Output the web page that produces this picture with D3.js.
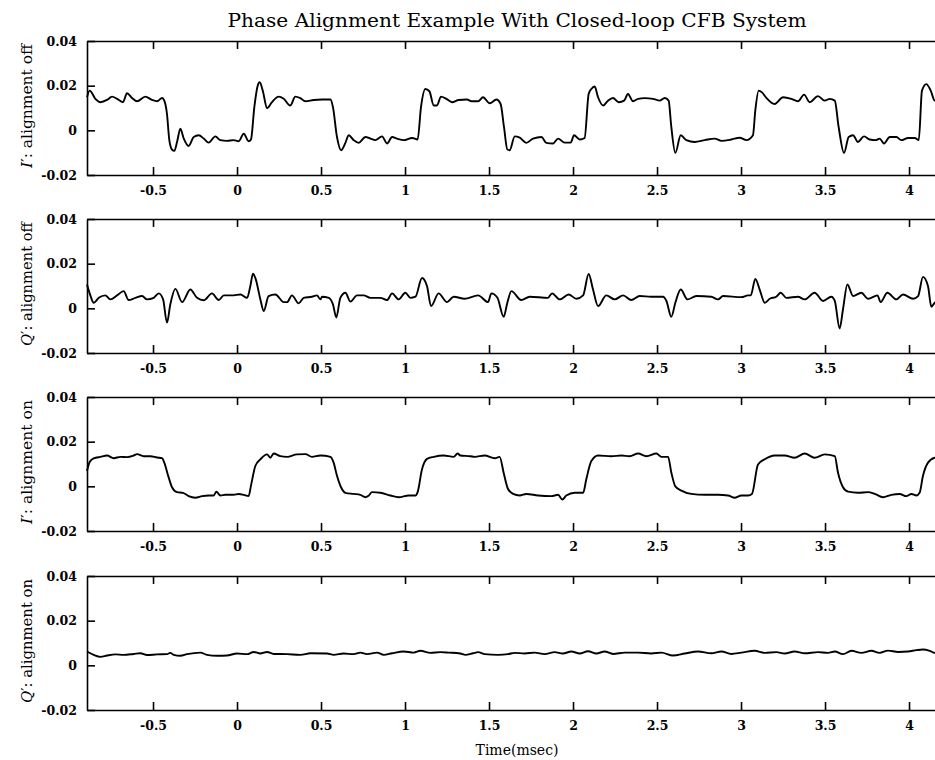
<!DOCTYPE html>
<html>
<head>
<meta charset="utf-8">
<script src="https://cdn.jsdelivr.net/npm/d3@7/dist/d3.min.js"></script>
<style>
  body { margin: 0; background: #fff; }
  svg { display: block; }
  .tick text { font-family: "DejaVu Serif", serif; font-weight: bold; font-size: 12.5px; fill: #000; }
  .tick line, .domain { stroke: #000; stroke-width: 1.6; }
</style>
</head>
<body>
<svg id="chart" width="935" height="760"></svg>
<script>
// tick values
const xTicks = [-0.5, 0, 0.5, 1, 1.5, 2, 2.5, 3, 3.5, 4];
const yTicks = [-0.02, 0, 0.02, 0.04];

// panel labels (symbol + state)
const panelSymbols = ['I', 'Q', 'I', 'Q'];
const panelStates = ['alignment off', 'alignment off', 'alignment on', 'alignment on'];

// series: [time (msec), value]
const iOff = [
  [-0.893, 0.0148], [-0.877, 0.0178], [-0.843, 0.0141], [-0.813, 0.0126], [-0.774, 0.0136],
  [-0.744, 0.0151], [-0.714, 0.0141], [-0.679, 0.0126], [-0.655, 0.0166], [-0.625, 0.0145],
  [-0.595, 0.0130], [-0.546, 0.0151], [-0.506, 0.0136], [-0.476, 0.0130], [-0.446, 0.0145],
  [-0.433, 0.0133], [-0.417, 0.0074], [-0.403, -0.0044], [-0.387, -0.0086], [-0.373, -0.0092],
  [-0.357, -0.0052], [-0.337, 0.0007], [-0.317, -0.0037], [-0.288, -0.0070], [-0.258, -0.0030],
  [-0.228, -0.0022], [-0.198, -0.0037], [-0.169, -0.0055], [-0.129, -0.0027], [-0.099, -0.0044],
  [-0.060, -0.0047], [-0.020, -0.0044], [0.010, -0.0049], [0.040, -0.0015], [0.069, -0.0049],
  [0.083, -0.0041], [0.103, 0.0104], [0.123, 0.0200], [0.135, 0.0215], [0.153, 0.0178],
  [0.179, 0.0099], [0.208, 0.0126], [0.248, 0.0151], [0.278, 0.0141], [0.317, 0.0111],
  [0.347, 0.0151], [0.377, 0.0144], [0.407, 0.0130], [0.456, 0.0136], [0.506, 0.0138],
  [0.556, 0.0138], [0.571, 0.0104], [0.595, -0.0030], [0.619, -0.0089], [0.645, -0.0056],
  [0.665, -0.0022], [0.694, -0.0044], [0.724, -0.0056], [0.764, -0.0030], [0.794, -0.0037],
  [0.823, -0.0044], [0.863, -0.0027], [0.893, -0.0059], [0.923, -0.0030], [0.952, -0.0037],
  [0.992, -0.0044], [1.042, -0.0034], [1.075, -0.0041], [1.095, 0.0104], [1.121, 0.0185],
  [1.145, 0.0175], [1.171, 0.0111], [1.190, 0.0111], [1.214, 0.0151], [1.246, 0.0141],
  [1.280, 0.0126], [1.319, 0.0136], [1.369, 0.0138], [1.395, 0.0130], [1.435, 0.0130],
  [1.464, 0.0148], [1.504, 0.0121], [1.544, 0.0138], [1.569, 0.0118], [1.589, 0.0015],
  [1.609, -0.0086], [1.623, -0.0089], [1.653, -0.0027], [1.683, -0.0033], [1.722, -0.0056],
  [1.762, -0.0037], [1.812, -0.0030], [1.841, -0.0056], [1.881, -0.0059], [1.911, -0.0037],
  [1.950, -0.0055], [1.986, -0.0055], [2.006, -0.0022], [2.040, -0.0041], [2.069, -0.0034],
  [2.093, 0.0163], [2.109, 0.0185], [2.129, 0.0196], [2.149, 0.0148], [2.179, 0.0111],
  [2.208, 0.0133], [2.238, 0.0145], [2.272, 0.0126], [2.304, 0.0133], [2.327, 0.0163],
  [2.357, 0.0130], [2.387, 0.0141], [2.427, 0.0144], [2.476, 0.0141], [2.516, 0.0133],
  [2.546, 0.0145], [2.569, 0.0133], [2.585, 0.0015], [2.609, -0.0101], [2.641, -0.0022],
  [2.675, -0.0044], [2.724, -0.0052], [2.784, -0.0044], [2.843, -0.0037], [2.883, -0.0047],
  [2.942, -0.0041], [2.992, -0.0033], [3.032, -0.0044], [3.071, -0.0022], [3.085, 0.0089],
  [3.105, 0.0178], [3.125, 0.0170], [3.151, 0.0145], [3.200, 0.0118], [3.250, 0.0148],
  [3.300, 0.0141], [3.339, 0.0130], [3.375, 0.0160], [3.409, 0.0126], [3.458, 0.0153],
  [3.498, 0.0133], [3.528, 0.0141], [3.558, 0.0133], [3.581, 0.0015], [3.613, -0.0101],
  [3.641, -0.0030], [3.667, -0.0022], [3.696, -0.0052], [3.732, -0.0027], [3.766, -0.0041],
  [3.802, -0.0044], [3.825, -0.0037], [3.851, -0.0059], [3.885, -0.0030], [3.925, -0.0030],
  [3.954, -0.0044], [3.994, -0.0034], [4.034, -0.0034], [4.058, -0.0044], [4.077, 0.0178],
  [4.103, 0.0207], [4.129, 0.0178], [4.153, 0.0133], [4.226, 0.0130]
];

const qOff = [
  [-0.893, 0.0107], [-0.873, 0.0058], [-0.853, 0.0025], [-0.823, 0.0047], [-0.784, 0.0058],
  [-0.754, 0.0040], [-0.714, 0.0058], [-0.675, 0.0077], [-0.645, 0.0037], [-0.605, 0.0047],
  [-0.565, 0.0055], [-0.536, 0.0040], [-0.496, 0.0047], [-0.466, 0.0067], [-0.440, 0.0040],
  [-0.417, -0.0064], [-0.397, 0.0018], [-0.367, 0.0087], [-0.327, 0.0028], [-0.278, 0.0084],
  [-0.238, 0.0047], [-0.198, 0.0036], [-0.149, 0.0067], [-0.109, 0.0037], [-0.079, 0.0058],
  [-0.020, 0.0058], [0.020, 0.0062], [0.060, 0.0047], [0.079, 0.0099], [0.095, 0.0155],
  [0.109, 0.0136], [0.139, 0.0040], [0.159, -0.0012], [0.188, 0.0055], [0.228, 0.0062],
  [0.278, 0.0028], [0.298, 0.0028], [0.327, 0.0058], [0.367, 0.0022], [0.397, 0.0047],
  [0.446, 0.0052], [0.476, 0.0058], [0.496, 0.0040], [0.506, 0.0052], [0.546, 0.0047],
  [0.571, 0.0018], [0.591, -0.0041], [0.615, 0.0047], [0.645, 0.0070], [0.675, 0.0030],
  [0.714, 0.0058], [0.754, 0.0058], [0.794, 0.0047], [0.853, 0.0047], [0.893, 0.0037],
  [0.923, 0.0067], [0.962, 0.0040], [1.002, 0.0070], [1.032, 0.0047], [1.062, 0.0052],
  [1.101, 0.0136], [1.131, 0.0099], [1.155, 0.0010], [1.200, 0.0067], [1.250, 0.0028],
  [1.290, 0.0052], [1.355, 0.0043], [1.435, 0.0058], [1.494, 0.0028], [1.514, 0.0067],
  [1.550, 0.0047], [1.587, -0.0038], [1.609, 0.0025], [1.633, 0.0077], [1.692, 0.0037],
  [1.742, 0.0052], [1.851, 0.0047], [1.875, 0.0067], [1.921, 0.0040], [1.974, 0.0062],
  [2.020, 0.0043], [2.060, 0.0058], [2.093, 0.0154], [2.119, 0.0084], [2.149, 0.0010],
  [2.198, 0.0058], [2.248, 0.0040], [2.298, 0.0058], [2.347, 0.0037], [2.397, 0.0055],
  [2.466, 0.0052], [2.536, 0.0052], [2.556, 0.0033], [2.585, -0.0038], [2.609, 0.0025],
  [2.641, 0.0084], [2.681, 0.0040], [2.734, 0.0055], [2.823, 0.0052], [2.863, 0.0040],
  [2.893, 0.0055], [3.002, 0.0050], [3.042, 0.0058], [3.058, 0.0058], [3.085, 0.0132],
  [3.111, 0.0084], [3.141, 0.0025], [3.171, 0.0043], [3.210, 0.0052], [3.236, 0.0070],
  [3.270, 0.0047], [3.339, 0.0052], [3.379, 0.0040], [3.438, 0.0070], [3.488, 0.0033],
  [3.538, 0.0052], [3.558, 0.0033], [3.587, -0.0090], [3.607, -0.0004], [3.633, 0.0107],
  [3.667, 0.0055], [3.716, 0.0070], [3.756, 0.0043], [3.812, 0.0058], [3.831, 0.0028],
  [3.871, 0.0070], [3.925, 0.0040], [3.964, 0.0062], [4.024, 0.0043], [4.054, 0.0055],
  [4.083, 0.0141], [4.113, 0.0099], [4.133, 0.0007], [4.153, 0.0025], [4.226, 0.0050]
];

const iOn = [
  [-0.893, 0.0069], [-0.877, 0.0109], [-0.853, 0.0125], [-0.813, 0.0132], [-0.774, 0.0138],
  [-0.734, 0.0126], [-0.694, 0.0132], [-0.655, 0.0131], [-0.615, 0.0138], [-0.595, 0.0144],
  [-0.556, 0.0135], [-0.516, 0.0135], [-0.476, 0.0129], [-0.446, 0.0126], [-0.433, 0.0106],
  [-0.407, 0.0040], [-0.387, -0.0004], [-0.357, -0.0026], [-0.321, -0.0029], [-0.288, -0.0044],
  [-0.248, -0.0051], [-0.208, -0.0044], [-0.169, -0.0041], [-0.139, -0.0041], [-0.123, -0.0024],
  [-0.099, -0.0041], [-0.069, -0.0038], [-0.020, -0.0038], [0.010, -0.0034], [0.040, -0.0038],
  [0.069, -0.0044], [0.083, 0.0003], [0.109, 0.0091], [0.139, 0.0121], [0.179, 0.0143],
  [0.198, 0.0128], [0.218, 0.0147], [0.258, 0.0135], [0.298, 0.0132], [0.357, 0.0143],
  [0.407, 0.0144], [0.446, 0.0132], [0.496, 0.0138], [0.556, 0.0132], [0.575, 0.0106],
  [0.595, 0.0047], [0.619, -0.0004], [0.645, -0.0029], [0.694, -0.0034], [0.734, -0.0038],
  [0.764, -0.0049], [0.784, -0.0041], [0.804, -0.0026], [0.853, -0.0029], [0.913, -0.0041],
  [0.962, -0.0049], [1.022, -0.0041], [1.062, -0.0041], [1.075, -0.0026], [1.101, 0.0076],
  [1.131, 0.0123], [1.171, 0.0132], [1.230, 0.0138], [1.290, 0.0132], [1.313, 0.0147],
  [1.329, 0.0138], [1.389, 0.0135], [1.415, 0.0132], [1.474, 0.0138], [1.534, 0.0126],
  [1.563, 0.0132], [1.589, 0.0054], [1.613, -0.0012], [1.643, -0.0034], [1.683, -0.0041],
  [1.722, -0.0034], [1.792, -0.0041], [1.871, -0.0044], [1.911, -0.0038], [1.937, -0.0059],
  [1.960, -0.0041], [2.010, -0.0029], [2.060, -0.0029], [2.079, 0.0032], [2.109, 0.0113],
  [2.149, 0.0138], [2.228, 0.0135], [2.288, 0.0138], [2.337, 0.0135], [2.387, 0.0147],
  [2.437, 0.0135], [2.496, 0.0147], [2.526, 0.0132], [2.566, 0.0132], [2.585, 0.0062],
  [2.609, 0.0000], [2.645, -0.0019], [2.704, -0.0034], [2.784, -0.0038], [2.863, -0.0038],
  [2.923, -0.0041], [2.962, -0.0051], [3.002, -0.0041], [3.042, -0.0041], [3.065, -0.0034],
  [3.101, 0.0098], [3.141, 0.0121], [3.200, 0.0138], [3.260, 0.0138], [3.319, 0.0128],
  [3.379, 0.0147], [3.438, 0.0128], [3.498, 0.0143], [3.558, 0.0135], [3.577, 0.0062],
  [3.607, -0.0004], [3.637, -0.0024], [3.696, -0.0029], [3.756, -0.0026], [3.796, -0.0034],
  [3.845, -0.0049], [3.895, -0.0038], [3.944, -0.0034], [3.984, -0.0044], [4.014, -0.0034],
  [4.044, -0.0041], [4.063, -0.0029], [4.083, 0.0047], [4.113, 0.0106], [4.153, 0.0128],
  [4.226, 0.0135]
];

const qOn = [
  [-0.893, 0.0062], [-0.853, 0.0047], [-0.813, 0.0038], [-0.774, 0.0044], [-0.724, 0.0049],
  [-0.675, 0.0047], [-0.615, 0.0051], [-0.575, 0.0054], [-0.536, 0.0046], [-0.476, 0.0049],
  [-0.417, 0.0050], [-0.397, 0.0056], [-0.377, 0.0047], [-0.337, 0.0043], [-0.298, 0.0050],
  [-0.218, 0.0057], [-0.179, 0.0047], [-0.119, 0.0043], [-0.060, 0.0044], [0.000, 0.0053],
  [0.060, 0.0050], [0.099, 0.0060], [0.139, 0.0053], [0.179, 0.0060], [0.218, 0.0051],
  [0.298, 0.0050], [0.377, 0.0047], [0.437, 0.0054], [0.536, 0.0053], [0.575, 0.0047],
  [0.635, 0.0053], [0.694, 0.0050], [0.734, 0.0057], [0.774, 0.0050], [0.833, 0.0057],
  [0.873, 0.0047], [0.923, 0.0054], [0.992, 0.0062], [1.052, 0.0057], [1.091, 0.0065],
  [1.151, 0.0056], [1.210, 0.0059], [1.260, 0.0057], [1.329, 0.0053], [1.359, 0.0047],
  [1.405, 0.0054], [1.435, 0.0059], [1.474, 0.0050], [1.554, 0.0047], [1.613, 0.0050],
  [1.653, 0.0056], [1.712, 0.0053], [1.772, 0.0057], [1.831, 0.0050], [1.891, 0.0059],
  [1.940, 0.0053], [1.990, 0.0062], [2.040, 0.0053], [2.089, 0.0063], [2.139, 0.0053],
  [2.188, 0.0062], [2.238, 0.0051], [2.308, 0.0057], [2.387, 0.0057], [2.466, 0.0053],
  [2.526, 0.0057], [2.595, 0.0044], [2.665, 0.0053], [2.744, 0.0062], [2.823, 0.0054],
  [2.883, 0.0062], [2.942, 0.0051], [3.002, 0.0057], [3.081, 0.0065], [3.141, 0.0056],
  [3.210, 0.0059], [3.260, 0.0053], [3.319, 0.0062], [3.379, 0.0054], [3.458, 0.0059],
  [3.518, 0.0056], [3.558, 0.0062], [3.607, 0.0050], [3.657, 0.0065], [3.716, 0.0056],
  [3.776, 0.0065], [3.825, 0.0056], [3.875, 0.0066], [3.935, 0.0060], [3.994, 0.0062],
  [4.044, 0.0068], [4.083, 0.0071], [4.123, 0.0065], [4.153, 0.0056], [4.226, 0.0056]
];

const seriesList = [iOff, qOff, iOn, qOn];

const svg = d3.select('#chart');
const serif = '"DejaVu Serif", serif';

const x = d3.scaleLinear().domain([-0.893, 4.226]).range([87, 947]);
const panelTops = [41, 219, 397, 576];
const panelHeight = 134;

svg.append('text')
  .attr('x', 517).attr('y', 27)
  .attr('text-anchor', 'middle')
  .attr('textLength', 579)
  .attr('lengthAdjust', 'spacingAndGlyphs')
  .style('font-family', serif)
  .style('font-size', '18px')
  .text('Phase Alignment Example With Closed-loop CFB System');

seriesList.forEach((data, i) => {
  const top = panelTops[i];
  const bottom = top + panelHeight;
  const y = d3.scaleLinear().domain([-0.02, 0.04]).range([bottom, top]);
  const panel = svg.append('g').attr('class', 'panel');

  // bottom axis with labels
  panel.append('g')
    .attr('transform', `translate(0,${bottom})`)
    .call(d3.axisBottom(x).tickValues(xTicks).tickSize(-8).tickSizeOuter(0)
      .tickPadding(11).tickFormat(d => String(d)));

  // top axis, ticks only
  panel.append('g')
    .attr('transform', `translate(0,${top})`)
    .call(d3.axisTop(x).tickValues(xTicks).tickSize(-8).tickSizeOuter(0).tickFormat(''));

  // left axis
  panel.append('g')
    .attr('transform', 'translate(87,0)')
    .call(d3.axisLeft(y).tickValues(yTicks).tickSize(-8).tickSizeOuter(0)
      .tickPadding(10).tickFormat(d => String(d)));

  // y label
  const lab = panel.append('text')
    .attr('transform', `translate(32,${(top + bottom) / 2 - 2}) rotate(-90)`)
    .attr('text-anchor', 'middle')
    .attr('textLength', 124)
    .attr('lengthAdjust', 'spacingAndGlyphs')
    .style('font-family', serif)
    .style('font-size', '14px');
  lab.append('tspan').style('font-style', 'italic').text(panelSymbols[i]);
  lab.append('tspan').text('\u2032: ' + panelStates[i]);

  panel.append('path')
    .datum(data)
    .attr('fill', 'none')
    .attr('stroke', '#000')
    .attr('stroke-width', 1.9)
    .attr('stroke-linejoin', 'round')
    .attr('d', d3.line().curve(d3.curveMonotoneX).x(d => x(d[0])).y(d => y(d[1])));
});

svg.append('text')
  .attr('x', 517).attr('y', 755)
  .attr('text-anchor', 'middle')
  .style('font-family', serif)
  .style('font-size', '14px')
  .text('Time(msec)');
</script>
</body>
</html>
